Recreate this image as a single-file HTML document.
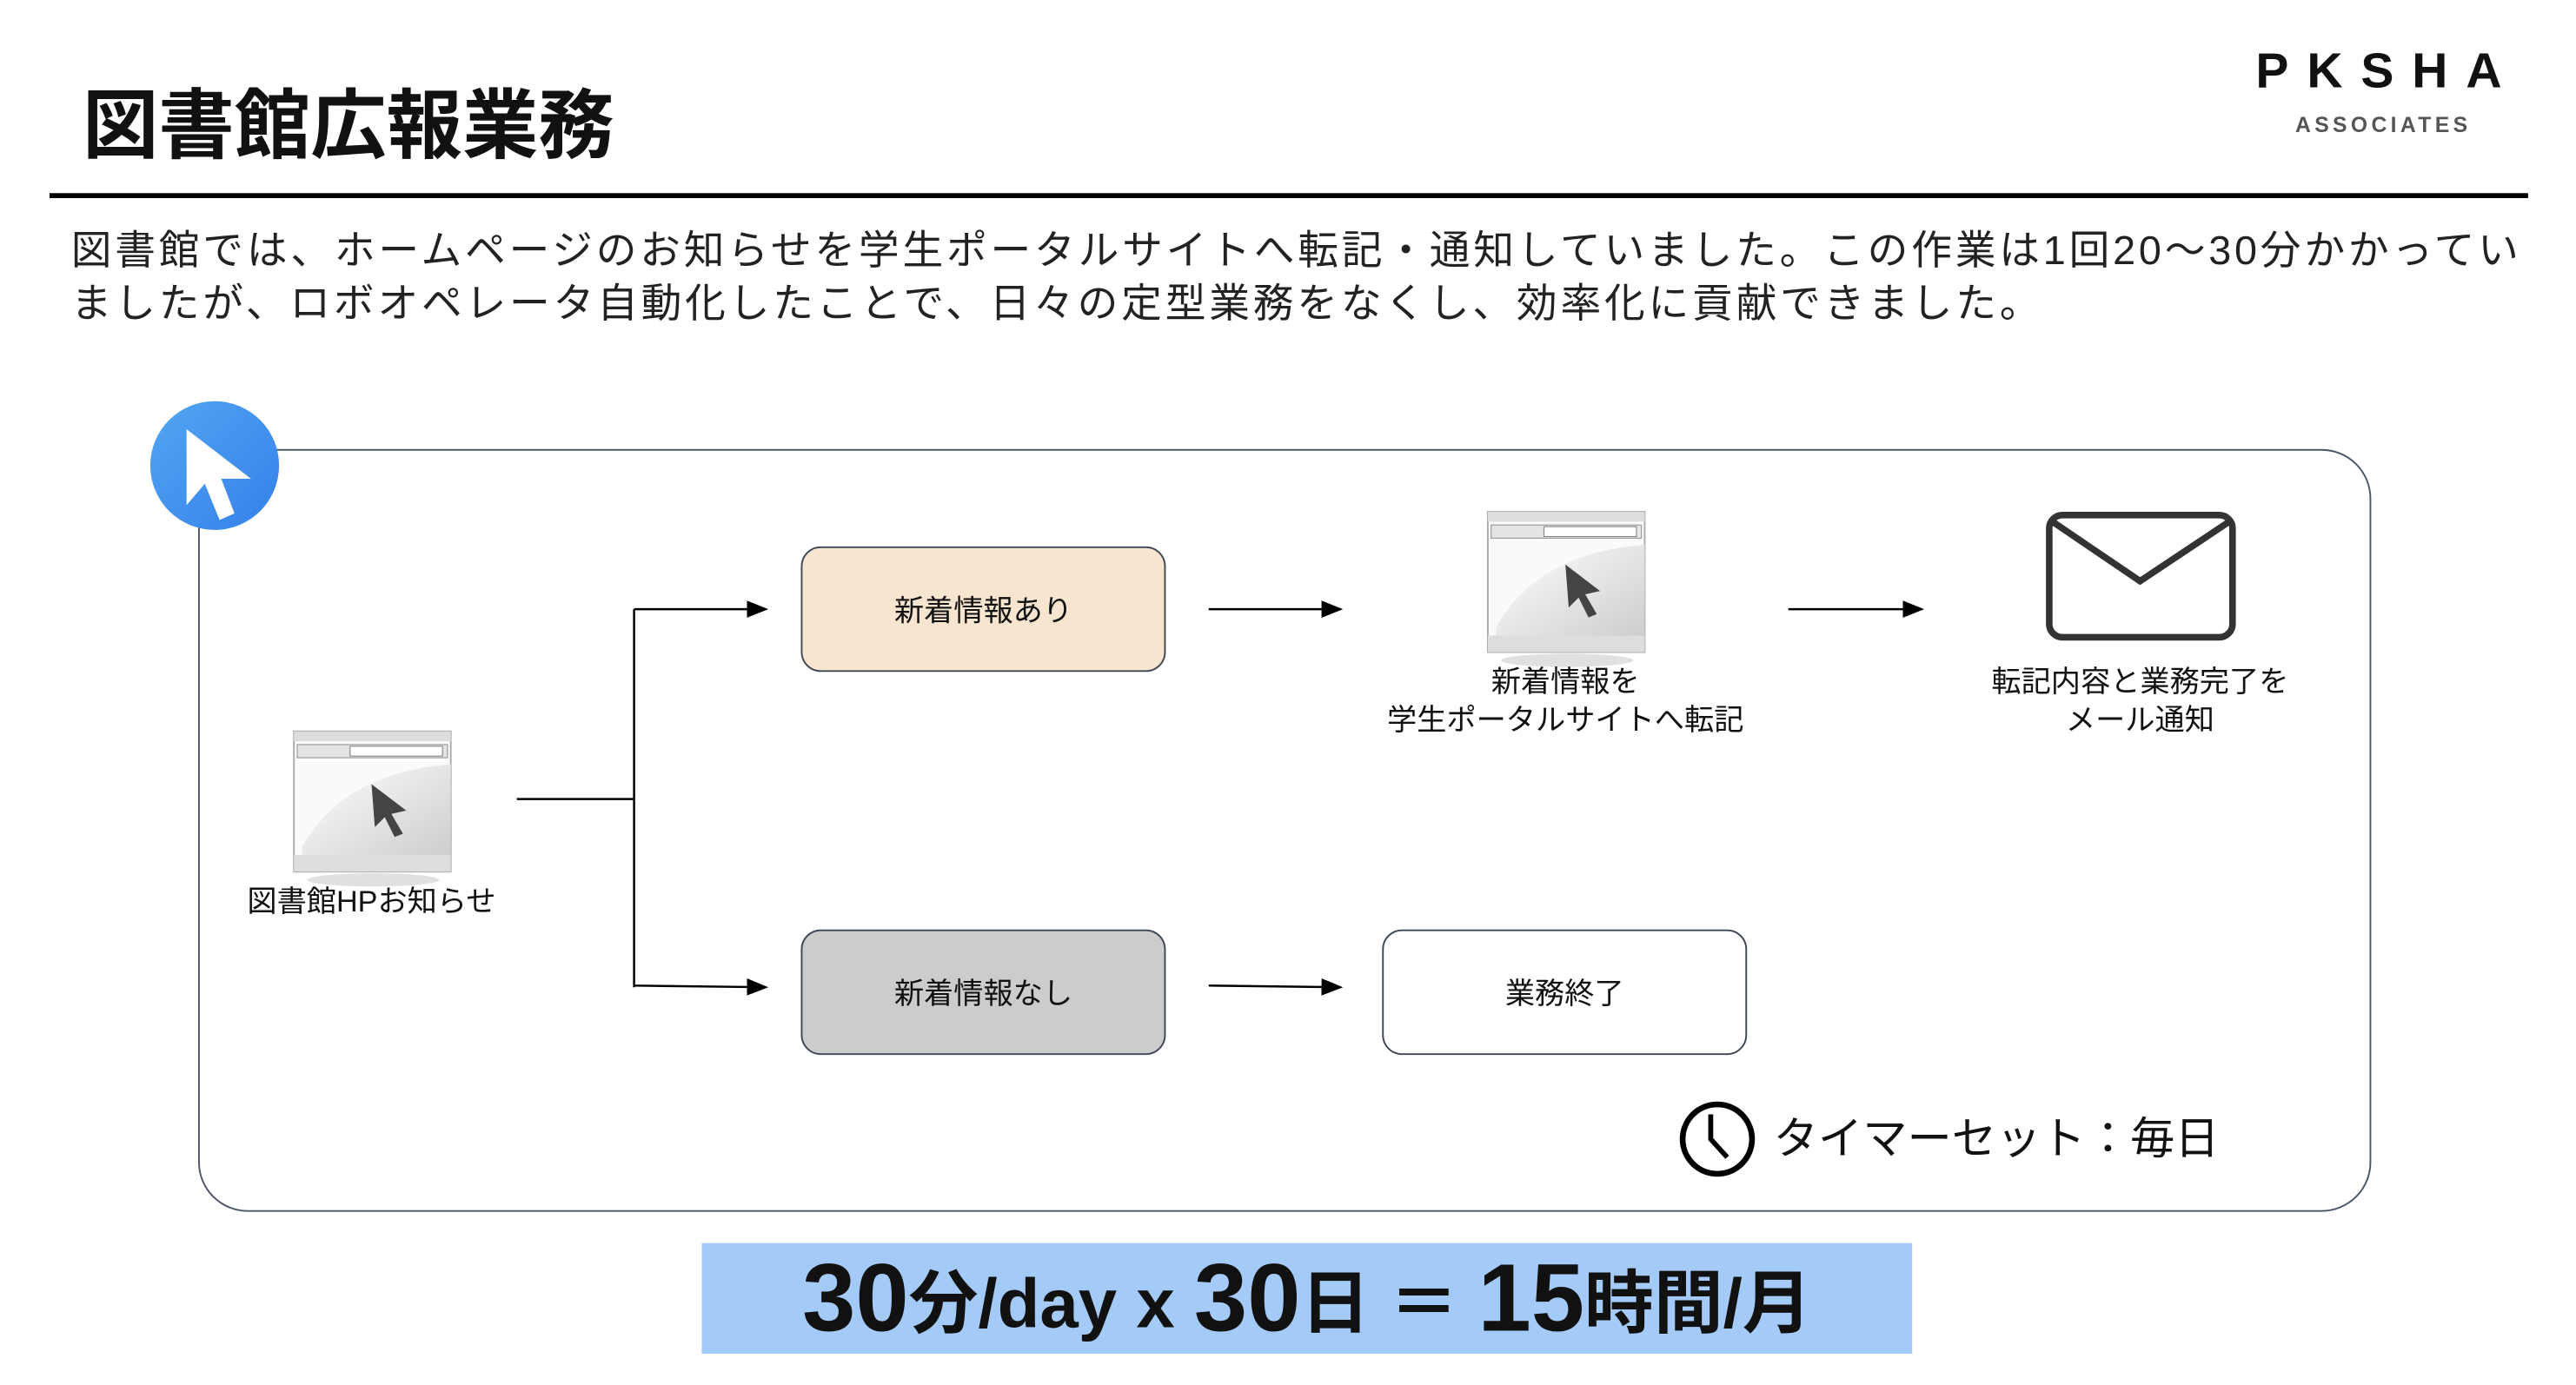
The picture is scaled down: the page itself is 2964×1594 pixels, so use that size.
<!DOCTYPE html>
<html><head><meta charset="utf-8"><style>
html,body{margin:0;padding:0;background:#fff;}
body{width:2964px;height:1594px;overflow:hidden;position:relative;}
#w{position:absolute;left:0;top:0;width:1560px;height:839px;transform:scale(1.9);transform-origin:0 0;font-family:"Liberation Sans","Noto Sans CJK JP",sans-serif;color:#111;}
.a{position:absolute;}
.box{position:absolute;width:221px;height:76px;border:1.5px solid #3d4656;border-radius:12px;display:flex;align-items:center;justify-content:center;font-size:18px;box-sizing:border-box;}
.lbl{position:absolute;font-size:18px;text-align:center;line-height:23px;white-space:nowrap;transform:translateX(-50%);}
</style></head><body><div id="w">
<div class="a" style="left:50px;top:48px;font-size:46px;font-weight:bold;line-height:56px;">図書館広報業務</div>
<div class="a" style="left:1366px;top:25px;font-size:30px;font-weight:bold;letter-spacing:11px;line-height:38px;">PKSHA</div>
<div class="a" style="left:1390px;top:68px;font-size:13px;letter-spacing:2.3px;color:#555;font-weight:bold;">ASSOCIATES</div>
<div class="a" style="left:30px;top:117px;width:1501px;height:3px;background:#000;"></div>
<div class="a" style="left:43px;top:137px;font-size:24.6px;letter-spacing:2px;line-height:32px;white-space:nowrap;color:#222;">図書館では、ホームページのお知らせを学生ポータルサイトへ転記・通知していました。この作業は1回20～30分かかってい<br>ましたが、ロボオペレータ自動化したことで、日々の定型業務をなくし、効率化に貢献できました。</div>
<div class="a" style="left:120px;top:272px;width:1316px;height:462px;border:1.2px solid #4a5568;border-radius:30px;box-sizing:border-box;"></div>
<svg class="a" style="left:0;top:0" width="1560" height="839">
<defs><marker id="m" markerWidth="10" markerHeight="8" refX="9" refY="4" orient="auto"><path d="M0,0 L10,4 L0,8z" fill="#000"/></marker>
<linearGradient id="g" x1="0" y1="0" x2="1" y2="1"><stop offset="0" stop-color="#fff"/><stop offset="1" stop-color="#ccc"/></linearGradient>
<linearGradient id="bl" x1="0" y1="0" x2="1" y2="1"><stop offset="0" stop-color="#52a6f2"/><stop offset="1" stop-color="#3580ea"/></linearGradient>
<g id="br"><rect x="0" y="0" width="95" height="85" fill="#fafafa" stroke="#aaa"/>
<rect x="0" y="0" width="95" height="6" fill="#ddd"/><rect x="2" y="8" width="91" height="8" fill="#e4e4e4" stroke="#999" stroke-width=".6"/>
<rect x="34" y="9" width="56" height="6" fill="#fff" stroke="#888" stroke-width=".6"/>
<path d="M5,70 Q30,25 95,20 V78 H5z" fill="url(#g)"/><rect x="0" y="75" width="95" height="10" fill="#ddd"/>
<ellipse cx="48" cy="90" rx="40" ry="4" fill="#ccc" opacity=".6"/>
<path d="M47,32 L68,48 L59,50 L66,62 L61,64 L55,52 L49,58z" fill="#444"/></g></defs>
<g stroke="#000" stroke-width="1.3" fill="none">
<path d="M313,484 H384"/><path d="M384,369 V598"/>
<path d="M384,369 H464" marker-end="url(#m)"/><path d="M384,597 L464,598" marker-end="url(#m)"/>
<path d="M732,369 H812" marker-end="url(#m)"/><path d="M1083,369 H1164" marker-end="url(#m)"/>
<path d="M732,597 L812,598" marker-end="url(#m)"/>
</g>
<circle cx="130" cy="282" r="39" fill="url(#bl)"/>
<path d="M113,260 L113,306 L124,293 L133,315 L142,311 L134,290 L152,290 Z" fill="#fff"/>
<use href="#br" x="178" y="443"/><use href="#br" x="901" y="310"/>
<rect x="1241" y="312" width="111" height="74" rx="8" fill="#fff" stroke="#333" stroke-width="4"/>
<path d="M1243,316 L1296,352 L1350,316" fill="none" stroke="#333" stroke-width="4"/>
<circle cx="1040" cy="690" r="21" fill="none" stroke="#000" stroke-width="3.5"/>
<path d="M1036,675 V690 L1046,701" fill="none" stroke="#000" stroke-width="3"/>
</svg>
<div class="box" style="left:485px;top:331px;background:#f8e5d0;">新着情報あり</div>
<div class="box" style="left:485px;top:563px;background:#cccccc;">新着情報なし</div>
<div class="box" style="left:837px;top:563px;background:#fff;">業務終了</div>
<div class="lbl" style="left:225px;top:535px;">図書館HPお知らせ</div>
<div class="lbl" style="left:948px;top:402px;">新着情報を<br>学生ポータルサイトへ転記</div>
<div class="lbl" style="left:1296px;top:402px;">転記内容と業務完了を<br>メール通知</div>
<div class="a" style="left:1074px;top:673px;font-size:27px;line-height:34px;white-space:nowrap;">タイマーセット：毎日</div>
<div class="a" style="left:425px;top:753px;width:733px;height:67px;background:#a4cbf8;"></div>
<div class="a" style="left:425px;top:753px;width:733px;height:67px;display:flex;align-items:center;justify-content:center;font-weight:bold;white-space:nowrap;">
<span style="font-size:58px;">30</span><span style="font-size:42px;">分/day x&nbsp;</span><span style="font-size:58px;">30</span><span style="font-size:42px;">日 ＝&nbsp;</span><span style="font-size:58px;">15</span><span style="font-size:42px;">時間/月</span></div>
</div></body></html>
